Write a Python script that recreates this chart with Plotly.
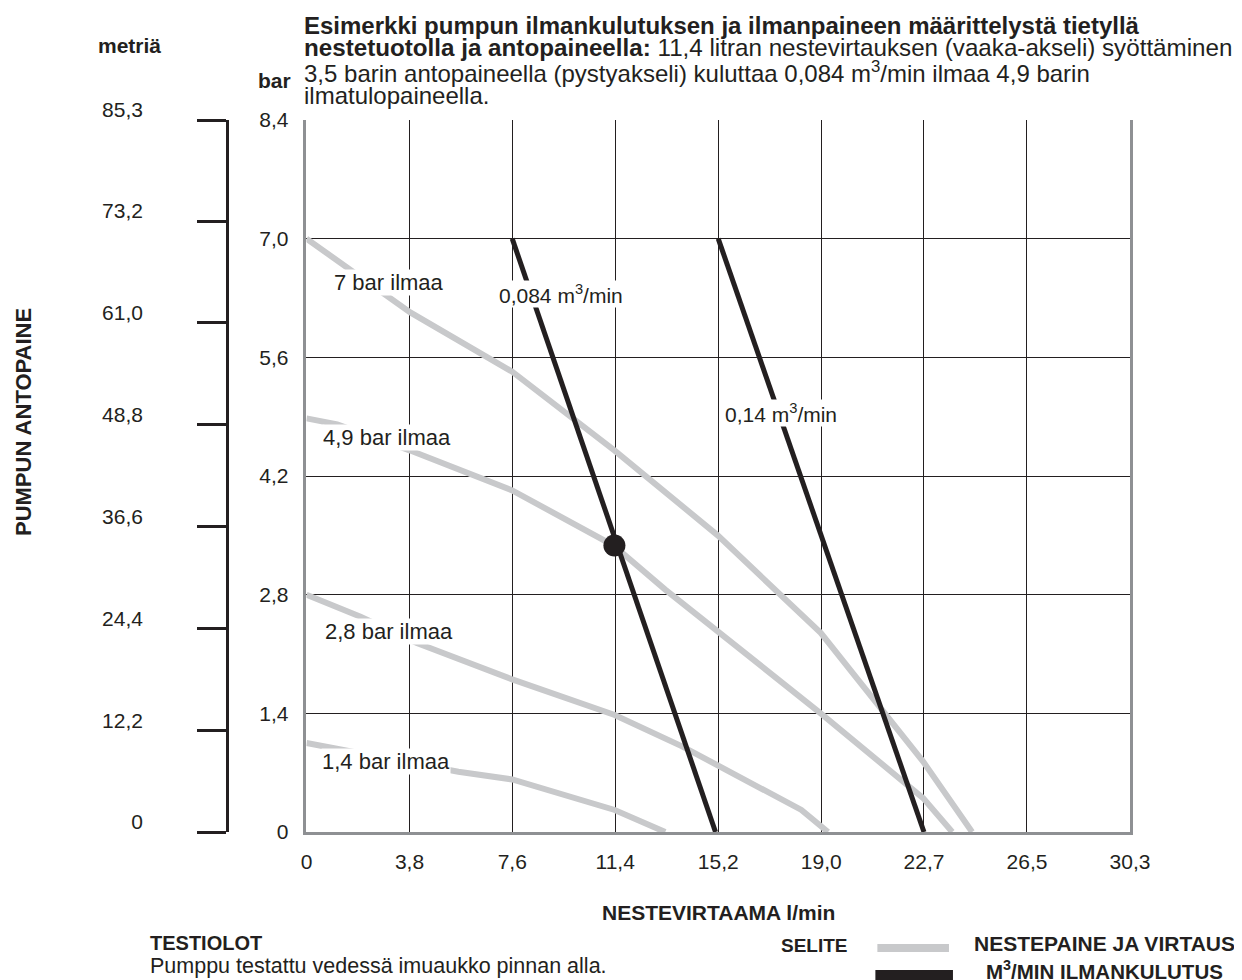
import plotly.graph_objects as go

# ---------------- data ----------------
X_TICKS = [0, 3.79, 7.57, 11.36, 15.15, 18.94, 22.72, 26.51, 30.3]
X_TICK_TEXT = ["0", "3,8", "7,6", "11,4", "15,2", "19,0", "22,7", "26,5", "30,3"]
Y_TICKS = [0, 1.4, 2.8, 4.2, 5.6, 7.0, 8.4]
Y_TICK_TEXT = ["0", "1,4", "2,8", "4,2", "5,6", "7,0", "8,4"]
M_TICKS = [0, 12.2, 24.4, 36.6, 48.8, 61.0, 73.2, 85.3]
M_TICK_TEXT = ["0", "12,2", "24,4", "36,6", "48,8", "61,0", "73,2", "85,3"]

# air inlet pressure curves (fluid flow l/min vs outlet pressure bar)
AIR_7_X = [0, 3.82, 7.57, 11.34, 15.13, 18.92, 22.69, 24.49]
AIR_7_Y = [7.0, 6.13, 5.43, 4.50, 3.50, 2.35, 0.83, 0]
AIR_49_X = [0, 1.13, 3.82, 7.57, 11.3, 13.2, 18.92, 22.69, 23.76]
AIR_49_Y = [4.88, 4.81, 4.50, 4.03, 3.38, 2.86, 1.40, 0.40, 0]
AIR_28_X = [0, 1.99, 4.06, 7.57, 11.34, 13.82, 18.21, 18.92, 19.19]
AIR_28_Y = [2.80, 2.54, 2.23, 1.80, 1.38, 1.01, 0.26, 0.07, 0]
AIR_14_X = [0, 0.8, 5.59, 7.57, 11.34, 13.2]
AIR_14_Y = [1.05, 1.00, 0.71, 0.62, 0.26, 0]

# air consumption lines
FLOW_084_X = [7.57, 15.05]
FLOW_084_Y = [7.0, 0]
FLOW_014_X = [15.15, 22.72]
FLOW_014_Y = [7.0, 0]

# example operating point
POINT_X = [11.33]
POINT_Y = [3.38]

AIR_LABELS = ["7 bar ilmaa", "4,9 bar ilmaa", "2,8 bar ilmaa", "1,4 bar ilmaa"]
FLOW_LABELS = ["0,084 m<sup>3</sup>/min", "0,14 m<sup>3</sup>/min"]

# ---------------- styling ----------------
FONT = "Liberation Sans, Arial, Helvetica, sans-serif"
GREY = "#c8c9cb"
BLACK = "#231f20"
AXGREY = "#8e9093"

# the page places the figure 8 px from the top-left corner
OFF = 8
W, H = 1242 - OFF, 980 - OFF
ML, MR, MT, MB = 12, 112, 112, 148
PW = W - ML - MR
PH = H - MT - MB


def px(xp):
    # reference-image x pixel -> paper coordinate
    return (xp - OFF - ML) / PW


def py(yp):
    # reference-image y pixel -> paper coordinate
    return (H - MB - (yp - OFF)) / PH


fig = go.Figure()

for xs, ys in [(AIR_7_X, AIR_7_Y), (AIR_49_X, AIR_49_Y), (AIR_28_X, AIR_28_Y), (AIR_14_X, AIR_14_Y)]:
    fig.add_trace(go.Scatter(x=xs, y=ys, mode="lines",
                             line=dict(color=GREY, width=6), showlegend=False, hoverinfo="skip"))

for xs, ys in [(FLOW_084_X, FLOW_084_Y), (FLOW_014_X, FLOW_014_Y)]:
    fig.add_trace(go.Scatter(x=xs, y=ys, mode="lines",
                             line=dict(color=BLACK, width=5), showlegend=False, hoverinfo="skip"))

fig.add_trace(go.Scatter(x=POINT_X, y=POINT_Y, mode="markers",
                         marker=dict(color=BLACK, size=22), showlegend=False, hoverinfo="skip"))

# empty trace on the metre axis so that it is drawn
fig.add_trace(go.Scatter(x=[None], y=[None], yaxis="y2", mode="lines", showlegend=False, hoverinfo="skip"))

annotations = []

# curve labels (data coordinates)
air_label_pos = [(3.03, 6.48), (2.95, 4.66), (3.03, 2.36), (2.92, 0.83)]
for txt, (lx, ly) in zip(AIR_LABELS, air_label_pos):
    annotations.append(dict(x=lx, y=ly, xref="x", yref="y", text=txt, showarrow=False,
                            font=dict(family=FONT, size=22, color=BLACK), bgcolor="white", borderpad=0))
flow_label_pos = [(9.36, 6.35), (17.47, 4.94)]
for txt, (lx, ly) in zip(FLOW_LABELS, flow_label_pos):
    annotations.append(dict(x=lx, y=ly, xref="x", yref="y", text=txt, showarrow=False,
                            font=dict(family=FONT, size=21, color=BLACK), bgcolor="white", borderpad=0))


def ann(text, xpx, ypx, size, xanchor="center", yanchor="middle", textangle=0, align="left"):
    annotations.append(dict(x=px(xpx), y=py(ypx), xref="paper", yref="paper", text=text,
                            showarrow=False, xanchor=xanchor, yanchor=yanchor, textangle=textangle,
                            align=align, font=dict(family=FONT, size=size, color=BLACK)))


# title block
ann("<b>Esimerkki pumpun ilmankulutuksen ja ilmanpaineen määrittelystä tietyllä</b>", 297, 25, 24, xanchor="left")
ann("<b>nestetuotolla ja antopaineella:</b> 11,4 litran nestevirtauksen (vaaka-akseli) syöttäminen", 297, 48, 24.2, xanchor="left")
ann("3,5 barin antopaineella (pystyakseli) kuluttaa 0,084 m<sup>3</sup>/min ilmaa 4,9 barin", 297, 72, 24, xanchor="left")
ann("ilmatulopaineella.", 297, 95, 24, xanchor="left")

# axis captions
ann("<b>metriä</b>", 124, 45, 21)
ann("<b>bar</b>", 270, 80, 21)
ann("<b>PUMPUN ANTOPAINE</b>", 17, 422, 22, textangle=-90)
ann("<b>NESTEVIRTAAMA l/min</b>", 716, 912, 21)

# test conditions
ann("<b>TESTIOLOT</b>", 143, 943, 20, xanchor="left")
ann("Pumppu testattu vedessä imuaukko pinnan alla.", 143, 966, 21.5, xanchor="left")

# legend
ann("<b>SELITE</b>", 813, 945, 19)
ann("<b>NESTEPAINE JA VIRTAUS</b>", 1104, 943, 21)
ann("<b>M<sup>3</sup>/MIN ILMANKULUTUS</b>", 1104, 970, 20.5)

shapes = [
    dict(type="rect", xref="paper", yref="paper", x0=px(876), x1=px(948), y0=py(952), y1=py(944),
         fillcolor=GREY, line=dict(width=0)),
    dict(type="rect", xref="paper", yref="paper", x0=px(874), x1=px(952), y0=py(995), y1=py(970),
         fillcolor=BLACK, line=dict(width=0)),
]

fig.update_layout(
    width=W, height=H,
    margin=dict(l=ML, r=MR, t=MT, b=MB, pad=0),
    paper_bgcolor="white", plot_bgcolor="white",
    font=dict(family=FONT, size=21, color=BLACK),
    showlegend=False,
    xaxis=dict(domain=[px(302), 1], range=[0, 30.3], tickvals=X_TICKS, ticktext=X_TICK_TEXT,
               showgrid=True, gridcolor=BLACK, gridwidth=1.3, zeroline=False,
               showline=True, linecolor=AXGREY, linewidth=2.5, ticks="",
               tickfont=dict(family=FONT, size=21, color=BLACK), ticklabelstandoff=9,
               fixedrange=True),
    yaxis=dict(range=[0, 8.4], tickvals=Y_TICKS, ticktext=Y_TICK_TEXT,
               showgrid=True, gridcolor=BLACK, gridwidth=1.3, zeroline=False,
               showline=True, linecolor=AXGREY, linewidth=2.5, mirror=True, ticks="",
               tickfont=dict(family=FONT, size=21, color=BLACK), ticklabelstandoff=11,
               fixedrange=True),
    yaxis2=dict(overlaying="y", anchor="free", position=px(222), side="left",
                range=[0, 85.3], tickvals=M_TICKS, ticktext=M_TICK_TEXT,
                showgrid=False, zeroline=False, showline=True, linecolor=BLACK, linewidth=2.5,
                ticks="outside", ticklen=29, tickwidth=2.5, tickcolor=BLACK,
                tickfont=dict(family=FONT, size=21, color=BLACK), ticklabelstandoff=50,
                ticklabelshift=-10, fixedrange=True),
    annotations=annotations,
    shapes=shapes,
)

fig.write_html("out.html")
